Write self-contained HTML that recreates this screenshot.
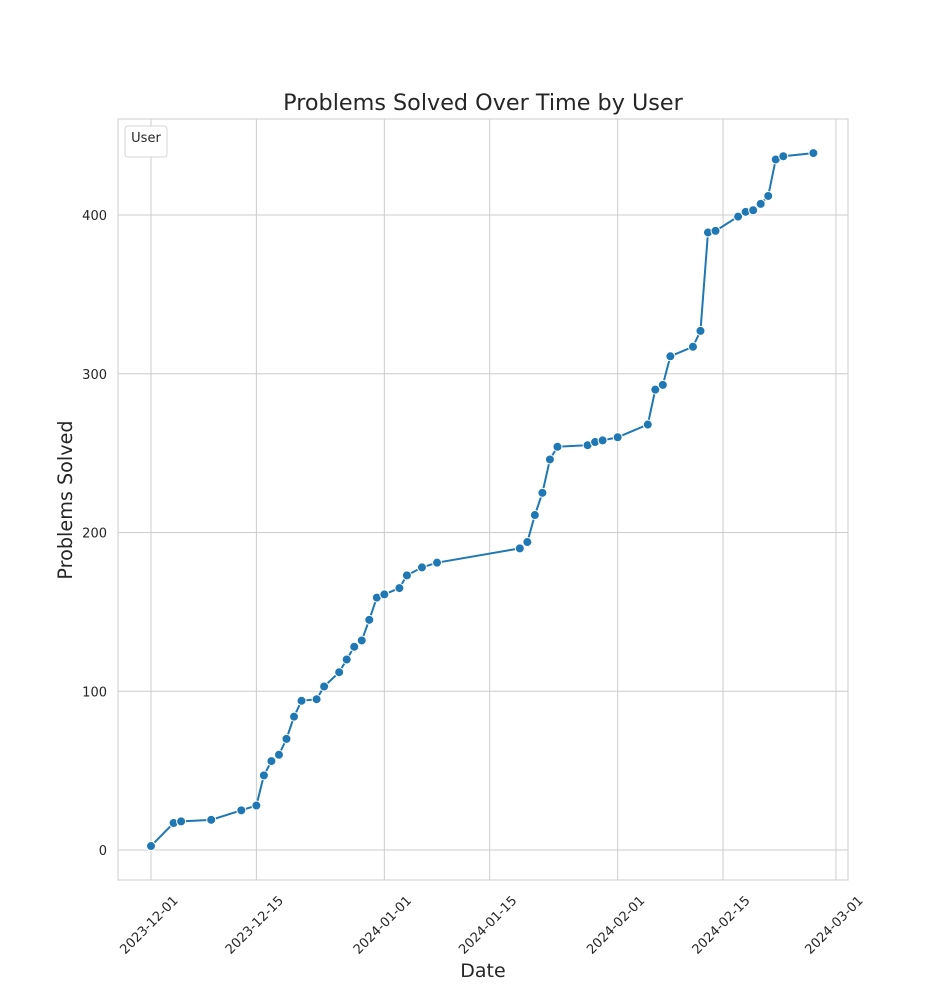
<!DOCTYPE html>
<html><head><meta charset="utf-8"><style>
body{margin:0;background:#fff;font-family:"Liberation Sans","DejaVu Sans",sans-serif}
</style></head><body>
<svg id="chart" width="942" height="989" xmlns="http://www.w3.org/2000/svg" font-family="DejaVu Sans, Liberation Sans, sans-serif">
<rect width="942" height="989" fill="#fff"/>
<g id="grid"></g>
<rect x="118" y="119" width="730" height="761" fill="none" stroke="#cccccc" stroke-width="1"/>
<g id="marks"></g>
<g id="ticks"></g>
<text x="483" y="110" text-anchor="middle" font-size="22.3" fill="#262626">Problems Solved Over Time by User</text>
<text x="483" y="977" text-anchor="middle" font-size="19" fill="#262626">Date</text>
<text transform="translate(72,500) rotate(-90)" text-anchor="middle" font-size="19.2" fill="#262626">Problems Solved</text>
<g>
<rect x="125" y="126" width="42" height="31" rx="3" fill="#fff" stroke="#d6d6d6"/>
<text x="146" y="142" text-anchor="middle" font-size="13" fill="#262626">User</text>
</g>
</svg>
<script>
const dates=["2023-12-01","2023-12-04","2023-12-05","2023-12-09","2023-12-13","2023-12-15","2023-12-16","2023-12-17","2023-12-18","2023-12-19","2023-12-20","2023-12-21","2023-12-23","2023-12-24","2023-12-26","2023-12-27","2023-12-28","2023-12-29","2023-12-30","2023-12-31","2024-01-01","2024-01-03","2024-01-04","2024-01-06","2024-01-08","2024-01-19","2024-01-20","2024-01-21","2024-01-22","2024-01-23","2024-01-24","2024-01-28","2024-01-29","2024-01-30","2024-02-01","2024-02-05","2024-02-06","2024-02-07","2024-02-08","2024-02-11","2024-02-12","2024-02-13","2024-02-14","2024-02-17","2024-02-18","2024-02-19","2024-02-20","2024-02-21","2024-02-22","2024-02-23","2024-02-27"];
const solved=[2.5,17,18,19,25,28,47,56,60,70,84,94,95,103,112,120,128,132,145,159,161,165,173,178,181,190,194,211,225,246,254,255,257,258,260,268,290,293,311,317,327,389,390,399,402,403,407,412,435,437,439];
const xTicks=["2023-12-01","2023-12-15","2024-01-01","2024-01-15","2024-02-01","2024-02-15","2024-03-01"];
const yTicks=[0,100,200,300,400];
const NS="http://www.w3.org/2000/svg";
const t0=Date.UTC(2023,11,1);
function dayOf(s){const p=s.split("-");return (Date.UTC(+p[0],+p[1]-1,+p[2])-t0)/86400000;}
function xs(s){return 151+dayOf(s)*7.527;}
function ys(v){return 850-v*1.5875;}
const grid=document.getElementById("grid"),ticks=document.getElementById("ticks"),marks=document.getElementById("marks");
function el(tag,attrs,parent){const e=document.createElementNS(NS,tag);for(const k in attrs)e.setAttribute(k,attrs[k]);parent.appendChild(e);return e;}
xTicks.forEach(d=>{const x=xs(d);
 const l=el("line",{x1:x,x2:x,y1:119,y2:880,stroke:"#cccccc"},grid);
 
 
 const t=el("text",{x:0,y:0,"font-size":13,fill:"#262626","text-anchor":"middle",transform:`translate(${x+1},${928}) rotate(-45)`},ticks);
 t.textContent=d;
 
 
});
yTicks.forEach(v=>{const y=ys(v);
 const l=el("line",{x1:118,x2:848,y1:y,y2:y,stroke:"#cccccc"},grid);
 
 
 const t=el("text",{x:107,y:y+5,"font-size":13,fill:"#262626","text-anchor":"end"},ticks);
 t.textContent=v;
 
 
});
const pts=dates.map((d,i)=>xs(d)+","+ys(solved[i])).join(" ");
const line=el("polyline",{points:pts,fill:"none",stroke:"#1f77b4","stroke-width":2},marks);


dates.forEach((d,i)=>{
 const c=el("circle",{cx:xs(d),cy:ys(solved[i]),r:4.5,fill:"#1f77b4",stroke:"#fff","stroke-width":1},marks);
 
 
});
</script>
</body></html>
